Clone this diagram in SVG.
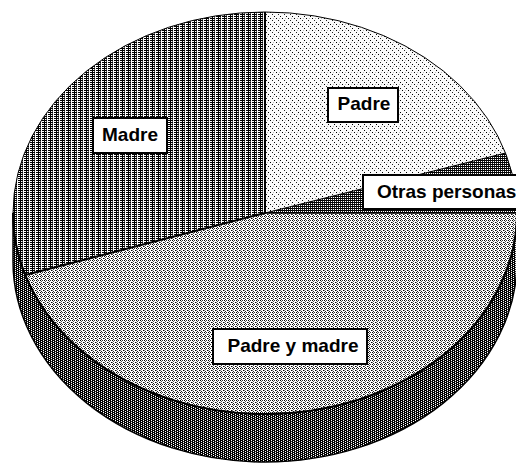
<svg xmlns="http://www.w3.org/2000/svg" width="516" height="464" viewBox="0 0 516 464">
<style>
  .lbl { fill: #fff; stroke: #000; stroke-width: 2; }
  .txt { font-family: "Liberation Sans", Arial, sans-serif; font-size: 19px; font-weight: bold; fill: #000; }
  .sep { fill: none; stroke: #000; stroke-width: 2; }
</style>
<defs>
  <pattern id="pMadre" patternUnits="userSpaceOnUse" width="6" height="2">
    <rect width="6" height="2" fill="#fff"/>
    <rect x="0" y="0" width="5" height="1" fill="#000"/>
    <rect x="2" y="1" width="1" height="1" fill="#000"/>
    <rect x="4" y="1" width="1" height="1" fill="#666"/>
  </pattern>
  <pattern id="pPadre" patternUnits="userSpaceOnUse" width="6" height="6">
    <rect width="6" height="6" fill="#fafafa"/>
    <rect x="0" y="0" width="1" height="1" fill="#000"/>
    <rect x="2" y="2" width="1" height="1" fill="#222"/>
    <rect x="4" y="4" width="1" height="1" fill="#000"/>
    <rect x="3" y="0" width="1" height="1" fill="#bbb"/>
  </pattern>
  <pattern id="pOtras" patternUnits="userSpaceOnUse" width="2" height="2">
    <rect width="2" height="2" fill="#fff"/>
    <rect x="0" y="0" width="2" height="1" fill="#000"/>
    <rect x="0" y="1" width="1" height="1" fill="#222"/>
  </pattern>
  <pattern id="pAmbos" patternUnits="userSpaceOnUse" width="4" height="4">
    <rect width="4" height="4" fill="#fff"/>
    <rect x="0" y="0" width="1" height="1" fill="#000"/>
    <rect x="2" y="0" width="1" height="1" fill="#333"/>
    <rect x="1" y="1" width="1" height="1" fill="#555"/>
    <rect x="3" y="2" width="1" height="1" fill="#000"/>
    <rect x="1" y="3" width="1" height="1" fill="#222"/>
    <rect x="0" y="2" width="1" height="1" fill="#777"/>
  </pattern>
  <pattern id="pSide" patternUnits="userSpaceOnUse" width="4" height="2">
    <rect width="4" height="2" fill="#fff"/>
    <rect x="0" y="0" width="1" height="2" fill="#000"/>
    <rect x="2" y="0" width="1" height="2" fill="#000"/>
    <rect x="1" y="0" width="1" height="1" fill="#000"/>
    <rect x="3" y="1" width="1" height="1" fill="#333"/>
  </pattern>
</defs>

<g id="side">
  <path d="M13,213 A252,201 0 0,0 517,213 L517,261 A252,201 0 0,1 13,261 Z" fill="url(#pSide)" stroke="#000" stroke-width="1.5"/>
</g>

<g id="madre">
  <path d="M265,213 L265,12 A252,201 0 0,0 25.3,275 Z" fill="url(#pMadre)"/>
</g>
<g id="padre">
  <path d="M265,213 L265,12 A252,201 0 0,1 505.5,153 Z" fill="url(#pPadre)"/>
</g>
<g id="otras">
  <path d="M265,213 L505.5,153 A252,201 0 0,1 517,213 Z" fill="url(#pOtras)"/>
</g>
<g id="padre-y-madre">
  <path d="M265,213 L517,213 A252,201 0 0,1 25.3,275 Z" fill="url(#pAmbos)"/>
</g>

<g id="separators">
  <ellipse cx="265" cy="213" rx="252" ry="201" fill="none" stroke="#000" stroke-width="1"/>
  <path class="sep" d="M13,213 A252,201 0 0,0 517,213"/>
  <path class="sep" d="M265,12 L265,213 L25.3,275"/>
  <path d="M265,213 L505.5,153" fill="none" stroke="#000" stroke-width="1"/>
  <path d="M265,213 L517,213" fill="none" stroke="#000" stroke-width="1.5"/>
</g>

<g id="label-padre">
  <rect class="lbl" x="328" y="88" width="70" height="34"/>
  <text class="txt" x="364" y="110" text-anchor="middle">Padre</text>
</g>
<g id="label-madre">
  <rect class="lbl" x="93" y="118" width="74" height="35"/>
  <text class="txt" x="130" y="141" text-anchor="middle">Madre</text>
</g>
<g id="label-otras">
  <rect class="lbl" x="363" y="175" width="160" height="34"/>
  <text class="txt" x="377" y="198">Otras personas</text>
</g>
<g id="label-padre-y-madre">
  <rect class="lbl" x="213" y="329" width="154" height="35"/>
  <text class="txt" x="293" y="352" text-anchor="middle">Padre y madre</text>
</g>
</svg>
